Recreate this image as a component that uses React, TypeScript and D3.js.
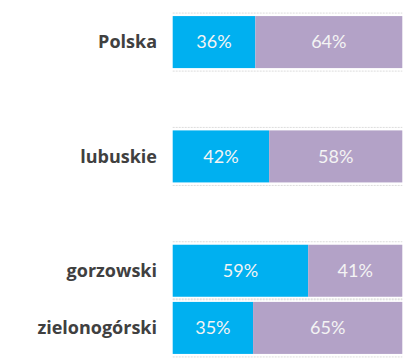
import React from "react";
import * as d3 from "d3";

const categories = ["Polska", "_gap1", "lubuskie", "_gap2", "gorzowski", "zielonogórski"];
const labels = ["Polska", "", "lubuskie", "", "gorzowski", "zielonogórski"];
const blueValues = [36, null, 42, null, 59, 35];
const purpleValues = [64, null, 58, null, 41, 65];

const W = 418;
const H = 362;

export default function App() {
  const x = d3.scaleLinear().domain([0, 100]).range([172.7, 402.3]);
  const y = d3.scaleBand().domain(categories).range([13.5, 356.5]).paddingInner(0.09).paddingOuter(0.045);
  const bw = y.bandwidth();
  return (
    <svg width={W} height={H} style={{ position: "absolute", left: 0, top: 0, background: "#fff" }}>
      {categories.map((c, i) => {
        const b = blueValues[i];
        const p = purpleValues[i];
        if (b == null || p == null) return null;
        const y0 = y(c)!;
        const x0 = x(0);
        const x1 = x(b);
        const x2 = x(b + p);
        return (
          <g key={c}>
            <line x1={x0} x2={x2} y1={y0 - 3} y2={y0 - 3} stroke="#dcdcdc" strokeWidth={1} strokeDasharray="2,1" />
            <line x1={x0} x2={x2} y1={y0 + bw + 3} y2={y0 + bw + 3} stroke="#dcdcdc" strokeWidth={1} strokeDasharray="2,1" />
            <rect x={x0} y={y0} width={x1 - x0} height={bw} fill="#00B0F0" />
            <rect x={x1} y={y0} width={x2 - x1} height={bw} fill="#B3A2C7" />
            <text x={(x0 + x1) / 2} y={y0 + bw / 2} dy="0.35em" textAnchor="middle" fill="#f4f4f4"
              fontFamily="Lato, sans-serif" fontSize={18}>{b}%</text>
            <text x={(x1 + x2) / 2} y={y0 + bw / 2} dy="0.35em" textAnchor="middle" fill="#f4f4f4"
              fontFamily="Lato, sans-serif" fontSize={18}>{p}%</text>
            <text x={157} y={y0 + bw / 2} dy="0.35em" textAnchor="end" fill="#404040"
              fontFamily="'Open Sans', sans-serif" fontWeight="bold" fontSize={18}>{labels[i]}</text>
          </g>
        );
      })}
    </svg>
  );
}
